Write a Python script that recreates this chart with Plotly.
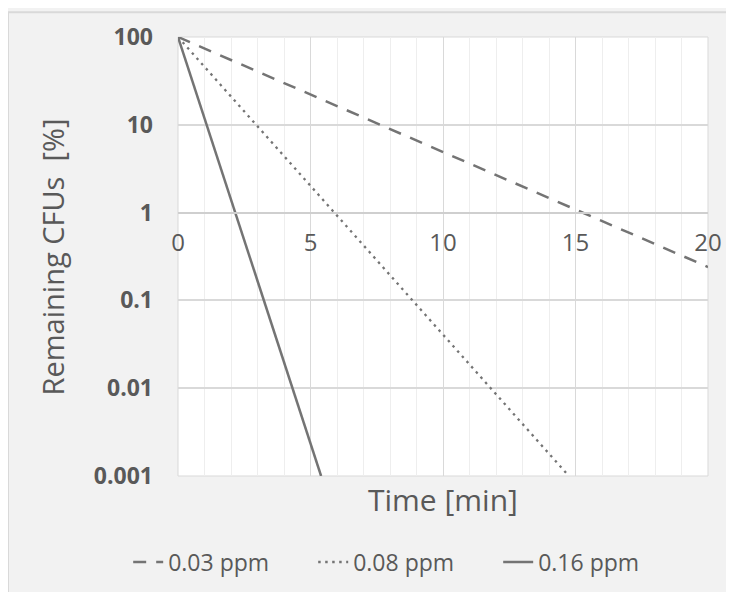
import plotly.graph_objects as go

# Data
series_names = ["0.03 ppm", "0.08 ppm", "0.16 ppm"]
time_003 = [0, 20]
cfu_003 = [100, 0.24]
time_008 = [0, 14.75]
cfu_008 = [100, 0.001]
time_016 = [0, 5.4]
cfu_016 = [100, 0.001]

x_ticks = [0, 5, 10, 15, 20]
y_ticks = [0.001, 0.01, 0.1, 1, 10, 100]
y_tick_labels = ["0.001", "0.01", "0.1", "1", "10", "100"]

FONT = "Open Sans, DejaVu Sans, sans-serif"
TXT = "#595959"
LINE = "#747474"
GRID = "#d9d9d9"

fig = go.Figure()
fig.add_trace(go.Scatter(x=time_003, y=cfu_003, mode="lines", name=series_names[0],
                         line=dict(color=LINE, width=2.5, dash="13px,10px")))
fig.add_trace(go.Scatter(x=time_008, y=cfu_008, mode="lines", name=series_names[1],
                         line=dict(color=LINE, width=2.3, dash="2.5px,4.5px")))
fig.add_trace(go.Scatter(x=time_016, y=cfu_016, mode="lines", name=series_names[2],
                         line=dict(color=LINE, width=2.5)))

fig.update_layout(
    width=734, height=592,
    margin=dict(l=170, r=34, t=25, b=124),
    paper_bgcolor="#f2f2f2",
    plot_bgcolor="white",
    font=dict(family=FONT, color=TXT),
    showlegend=True,
    legend=dict(orientation="h", x=-0.094, y=-0.196, xanchor="left", yanchor="middle",
                font=dict(size=23, color=TXT), bgcolor="rgba(0,0,0,0)",
                entrywidth=140, entrywidthmode="pixels", tracegroupgap=0),
    shapes=[
        dict(type="rect", xref="paper", yref="paper", x0=-0.3208, x1=1.2, y0=-0.4, y1=1.0564,
             fillcolor="rgba(0,0,0,0)", line=dict(color="#d9d9d9", width=2), layer="below"),
        dict(type="rect", xref="paper", yref="paper", x0=0, x1=1, y0=0, y1=1,
             fillcolor="rgba(0,0,0,0)", line=dict(color=GRID, width=1), layer="below"),
    ],
    annotations=[
        dict(text="Time [min]", xref="paper", yref="paper", x=0.5, y=-0.054,
             xanchor="center", yanchor="middle", showarrow=False,
             font=dict(size=30, color=TXT, family=FONT)),
        dict(text="Remaining CFUs\u00a0 [%]", xref="paper", yref="paper", x=-0.236, y=0.5,
             xanchor="center", yanchor="middle", showarrow=False, textangle=-90,
             font=dict(size=29, color=TXT, family=FONT)),
    ],
)

fig.update_xaxes(
    range=[0, 20], tickvals=x_ticks, ticktext=[str(v) for v in x_ticks],
    anchor="free", position=0.6,
    showline=True, linecolor="#cfcfcf", linewidth=1.5,
    showgrid=True, gridcolor=GRID, gridwidth=1,
    minor=dict(dtick=1, showgrid=True, gridcolor="#eeeeee", gridwidth=1),
    zeroline=False, ticks="", ticklabelstandoff=9,
    tickfont=dict(size=24, color=TXT, family=FONT),
)
fig.update_yaxes(
    type="log", range=[-3, 2], tickvals=y_ticks, ticktext=y_tick_labels,
    showline=False, showgrid=True, gridcolor=GRID, gridwidth=1.5,
    zeroline=False, ticks="", ticklabelstandoff=24,
    tickfont=dict(size=23, color=TXT, family=FONT, weight="bold"),
)

fig.write_html("out.html")
